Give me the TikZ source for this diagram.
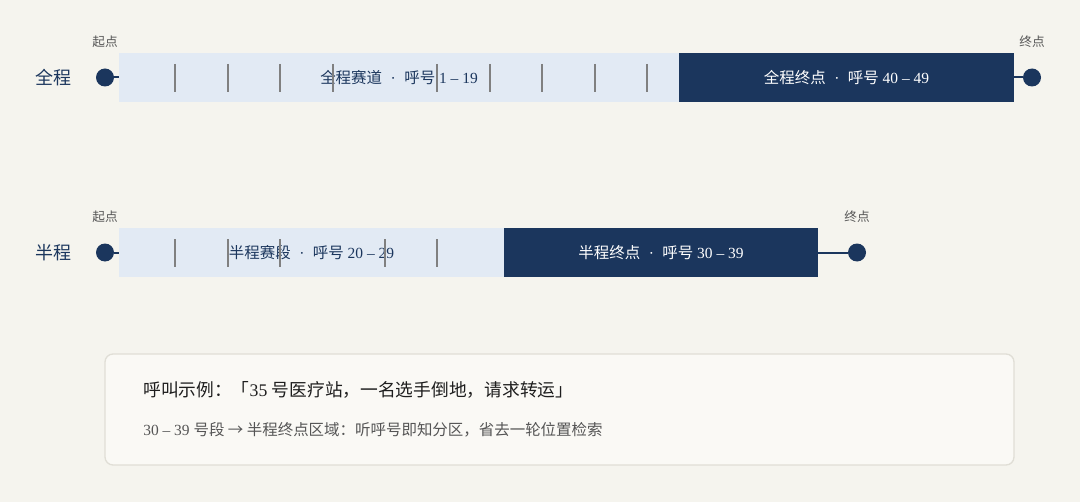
\documentclass[tikz,border=0pt]{standalone}
\usepackage{fontspec}
\setmainfont{Liberation Serif}
\newfontfamily\zh{Noto Sans CJK SC}
\usepackage{tikz}

\definecolor{navy}{RGB}{27,54,93}
\definecolor{lanefill}{RGB}{226,234,244}
\definecolor{paper}{RGB}{245,244,238}
\definecolor{cardfill}{RGB}{250,249,245}
\definecolor{cardline}{RGB}{224,222,214}
\definecolor{tickgray}{RGB}{128,128,128}
\definecolor{notegray}{RGB}{85,85,85}

\newcommand{\middot}{\hspace{0.55em}·\hspace{0.55em}}

\tikzset{
  lanebar/.style={fill=lanefill, inner sep=0pt, minimum height=36.75pt, text=navy, font=\fontsize{11.6}{13}\selectfont},
  goalbar/.style={fill=navy, inner sep=0pt, minimum height=36.75pt, text=white, font=\fontsize{11.6}{13}\selectfont},
  enddot/.style={circle, fill=navy, inner sep=0pt, minimum size=13.5pt},
  conn/.style={draw=navy, line width=1.5pt},
  tickmark/.style={draw=tickgray, line width=1.1pt},
  endlabel/.style={inner sep=0pt, text=notegray, font=\zh\fontsize{9.5}{11}\selectfont},
  rowlabel/.style={inner sep=0pt, text=navy, font=\zh\fontsize{13.5}{15}\selectfont}
}

\begin{document}
\begin{tikzpicture}[x=0.75pt,y=0.75pt,yscale=-1]
\useasboundingbox (0,0) rectangle (1080,502);
\fill [paper] (0,0) rectangle (1080,502);

% full course row
\node (full) [rowlabel] at (53,78) {全程};
\node (fullLane) [lanebar, minimum width=420pt] at (399,77.5) {{\zh 全程赛道}\middot{\zh 呼号} 1 – 19};
\node (fullGoal) [goalbar, minimum width=251.25pt] at (846.5,77.5) {{\zh 全程终点}\middot{\zh 呼号} 40 – 49};
\foreach \x in {175,228,280,333,437,490,542,595,647}
  \draw [tickmark] (\x,64) -- (\x,92);
\node (fullStart) [enddot] at (105,77.5) {};
\node (fullEnd) [enddot] at (1032,77.5) {};
\draw [conn] (fullStart) -- (fullLane.west);
\draw [conn] (fullGoal.east) -- (fullEnd);
\node (fullStartLbl) [endlabel] at (105,42) {起点};
\node (fullEndLbl) [endlabel] at (1032,42) {终点};

% half course row
\node (half) [rowlabel] at (53,253) {半程};
\node (halfLane) [lanebar, minimum width=288.75pt] at (311.5,252.5) {{\zh 半程赛段}\middot{\zh 呼号} 20 – 29};
\node (halfGoal) [goalbar, minimum width=235.5pt] at (661,252.5) {{\zh 半程终点}\middot{\zh 呼号} 30 – 39};
\foreach \x in {175,228,280,385,437}
  \draw [tickmark] (\x,239) -- (\x,267);
\node (halfStart) [enddot] at (105,252.5) {};
\node (halfEnd) [enddot] at (857,252.5) {};
\draw [conn] (halfStart) -- (halfLane.west);
\draw [conn] (halfGoal.east) -- (halfEnd);
\node (halfStartLbl) [endlabel] at (105,217) {起点};
\node (halfEndLbl) [endlabel] at (857,217) {终点};

% example card
\draw [fill=cardfill, draw=cardline, line width=1pt, rounded corners=6pt] (105,354) rectangle (1014,465);
\node (callLine) [anchor=west, inner sep=0pt, text={rgb,255:red,30;green,30;blue,30}, font=\fontsize{13.3}{15}\selectfont] at (143,390) {{\zh 呼叫示例：「}35 {\zh 号医疗站，一名选手倒地，请求转运」}};
\node (noteLine) [anchor=west, inner sep=0pt, text=notegray, font=\fontsize{11.6}{13}\selectfont] at (143,430) {30 – 39 {\zh 号段 → 半程终点区域：听呼号即知分区，省去一轮位置检索}};

\end{tikzpicture}
\end{document}
